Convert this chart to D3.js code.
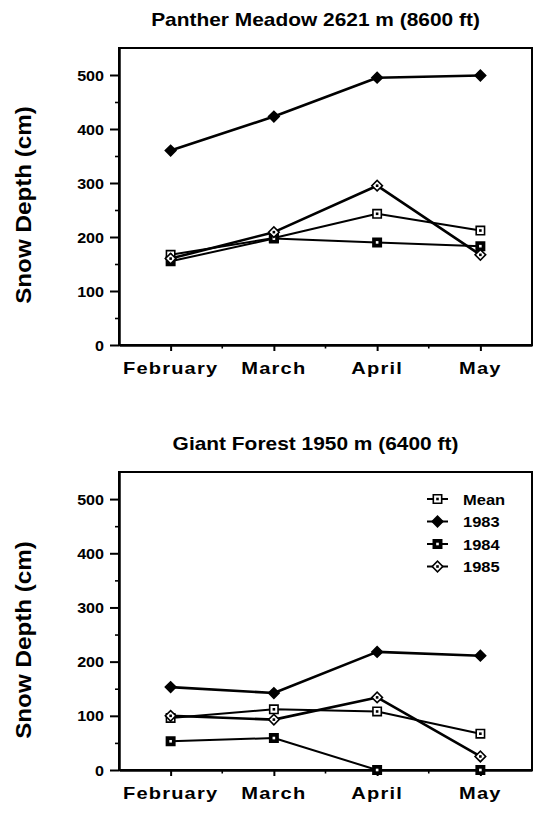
<!DOCTYPE html>
<html>
<head>
<meta charset="utf-8">
<script src="https://cdn.jsdelivr.net/npm/d3@7"></script>
<style>
html,body{margin:0;padding:0;background:#fff;}
svg{display:block;}
text{font-family:"Liberation Sans",Arial,Helvetica,sans-serif;font-weight:bold;fill:#000;}
</style>
</head>
<body>
<svg id="chart" width="540" height="813"></svg>
<script>
// ===== data =====
const months = ["February","March","April","May"];
const yTicks = [0,100,200,300,400,500];
const yMinor = [50,150,250,350,450];
const seriesNames = ["Mean","1983","1984","1985"];

const pantherMean = [167,198,243,212];
const panther1983 = [360,423,495,499];
const panther1984 = [155,197,190,183];
const panther1985 = [160,209,295,167];

const giantMean = [96,112,108,67];
const giant1983 = [153,142,218,211];
const giant1984 = [53,59,0,0];
const giant1985 = [100,93,134,25];

// ===== styles =====
const styles = {
  "Mean": {shape:"square",  fill:"#fff", dot:"#000", lw:2},
  "1983": {shape:"diamond", fill:"#000", dot:null,   lw:2.6},
  "1984": {shape:"square",  fill:"#000", dot:"#fff", lw:2},
  "1985": {shape:"diamond", fill:"#fff", dot:"#000", lw:2.6}
};

const svg = d3.select("#chart");
const L = 119, R = 532;

function stretch(sel, k){
  sel.each(function(){
    const w = this.getComputedTextLength();
    d3.select(this).attr("textLength", w*k).attr("lengthAdjust","spacingAndGlyphs");
  });
}

function marker(g, st, cx, cy){
  const sym = st.shape === "square" ? d3.symbol(d3.symbolSquare, 70) : d3.symbol(d3.symbolSquare, 56);
  const rot = st.shape === "diamond" ? 45 : 0;
  g.append("path").attr("d", sym())
    .attr("transform", `translate(${cx},${cy}) rotate(${rot})`)
    .attr("fill", st.fill).attr("stroke", "#000").attr("stroke-width", 1.6);
  if (st.dot) g.append("rect")
    .attr("x", cx-1.3).attr("y", cy-1.3).attr("width", 2.6).attr("height", 2.6)
    .attr("fill", st.dot);
}

function panel(title, top, bottom, series, showLegend, labelMid){
  const g = svg.append("g");
  const x = d3.scalePoint().domain(months).range([L,R]).padding(0.5);
  const y = d3.scaleLinear().domain([0,550]).range([bottom,top]);

  // title
  g.append("text")
    .attr("x", (L+R)/2 - 10).attr("y", top - 22)
    .attr("text-anchor","middle").style("font-size","19px")
    .text(title).call(stretch, 1.1);

  // frame
  g.append("rect")
    .attr("x", L).attr("y", top).attr("width", R-L).attr("height", bottom-top)
    .attr("fill","none").attr("stroke","#000").attr("stroke-width",2);

  // y axis
  const ya = g.append("g").attr("transform",`translate(${L},0)`)
    .call(d3.axisLeft(y).tickValues(yTicks).tickSize(9).tickSizeOuter(0).tickPadding(6));
  ya.attr("font-size",null).attr("font-family",null);
  ya.select(".domain").attr("stroke-width",2.5);
  ya.selectAll(".tick line").attr("stroke-width",2);
  ya.selectAll(".tick text").style("font-size","14px").attr("dy","0.36em").call(stretch,1.15);

  g.append("g").attr("transform",`translate(${L},0)`)
    .call(d3.axisLeft(y).tickValues(yMinor).tickSize(4).tickFormat(""))
    .call(a => a.select(".domain").remove())
    .selectAll(".tick line").attr("stroke-width",1.6);

  // x axis
  const xa = g.append("g").attr("transform",`translate(0,${bottom})`)
    .call(d3.axisBottom(x).tickSize(6).tickSizeOuter(0).tickFormat(""));
  xa.select(".domain").attr("stroke-width",2.5);
  xa.selectAll(".tick line").attr("stroke-width",2);

  const step = x.step();
  g.selectAll(".xminor").data(months.slice(0,-1)).join("line")
    .attr("x1", d => x(d) + step/2).attr("x2", d => x(d) + step/2)
    .attr("y1", bottom).attr("y2", bottom + 3.5)
    .attr("stroke","#000").attr("stroke-width",1.6);

  g.selectAll(".xlab").data(months).join("text")
    .attr("x", d => x(d)).attr("y", bottom + 29)
    .attr("text-anchor","middle").style("font-size","17px").style("letter-spacing","1px")
    .text(d => d).call(stretch, 1.18);

  // y label
  g.append("text")
    .attr("transform",`translate(31,${labelMid}) rotate(-90)`)
    .attr("text-anchor","middle").style("font-size","22px")
    .text("Snow Depth (cm)").call(stretch, 1.1);

  // lines + markers
  const line = d3.line().x((d,i) => x(months[i])).y(d => y(d));
  seriesNames.forEach((name, k) => {
    const st = styles[name];
    g.append("path").attr("d", line(series[k]))
      .attr("fill","none").attr("stroke","#000").attr("stroke-width",st.lw)
      .attr("stroke-linejoin","round");
  });
  seriesNames.forEach((name, k) => {
    const st = styles[name];
    series[k].forEach((v,i) => marker(g, st, x(months[i]), y(v)));
  });

  // legend
  if (showLegend){
    const lg = g.append("g");
    seriesNames.forEach((name, i) => {
      const ry = top + 27 + i*22.5;
      lg.append("line").attr("x1",427).attr("x2",448).attr("y1",ry).attr("y2",ry)
        .attr("stroke","#000").attr("stroke-width",2);
      marker(lg, styles[name], 437.5, ry);
      lg.append("text").attr("x",463).attr("y",ry+5.5).style("font-size","15px")
        .text(name).call(stretch,1.1);
    });
  }
}

panel("Panther Meadow 2621 m (8600 ft)", 48, 345,
  [pantherMean, panther1983, panther1984, panther1985], false, 205);
panel("Giant Forest 1950 m (6400 ft)", 472, 770,
  [giantMean, giant1983, giant1984, giant1985], true, 640);
</script>
</body>
</html>
